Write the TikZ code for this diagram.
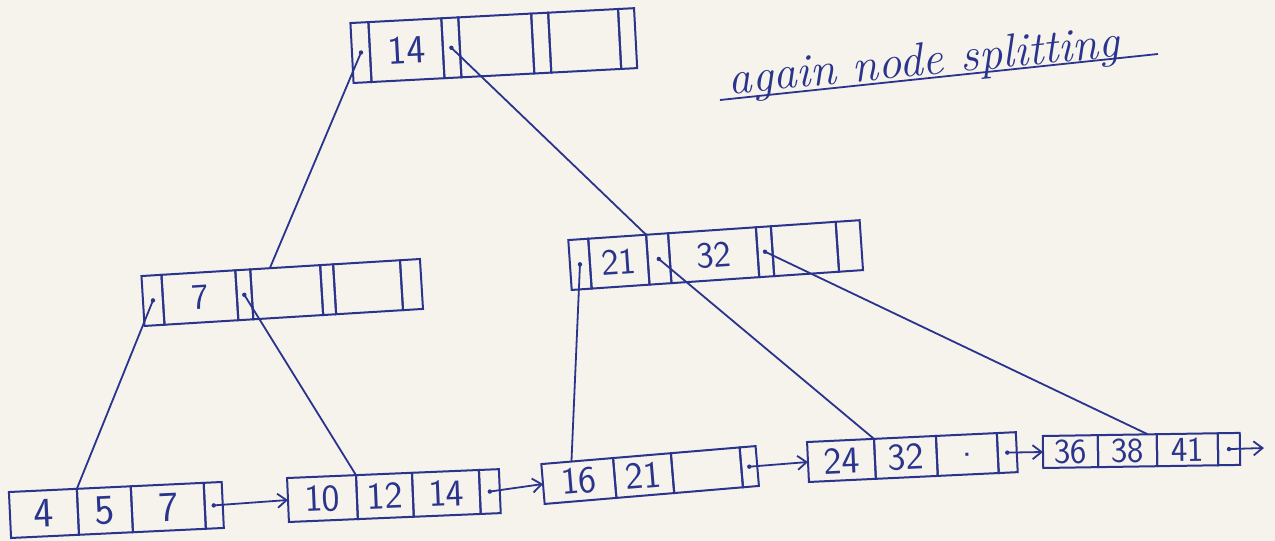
\documentclass[tikz,border=0pt]{standalone}
\usetikzlibrary{arrows.meta,calc}
\definecolor{ink}{RGB}{42,52,140}
\definecolor{paper}{RGB}{245,243,236}
\tikzset{
  cell/.style={draw=ink, line width=2pt, inner sep=0pt, outer sep=0pt, anchor=west, text=ink},
  link/.style={draw=ink, line width=1.8pt},
  nextptr/.style={link, -{Straight Barb[length=9pt,width=14pt,line width=1.8pt]}},
  pdot/.style={fill=ink},
}
\newcommand{\dg}[1]{\sffamily\fontsize{#1}{#1}\selectfont}
\begin{document}
\begin{tikzpicture}[x=1pt,y=-1pt]
\fill[paper] (0,0) rectangle (1275,541);
\useasboundingbox (0,0) rectangle (1275,541);

% ---------- top node ----------
\begin{scope}[every node/.append style={rotate=3, minimum height=60, font=\dg{40}}]
\node[cell, minimum width=18] (T0) at (352,53) {};
\node[cell, minimum width=73] (T1) at (T0.east) {14};
\node[cell, minimum width=17] (T2) at (T1.east) {};
\node[cell, minimum width=73] (T3) at (T2.east) {};
\node[cell, minimum width=17] (T4) at (T3.east) {};
\node[cell, minimum width=70] (T5) at (T4.east) {};
\node[cell, minimum width=16] (T6) at (T5.east) {};
\end{scope}

% ---------- left internal node ----------
\begin{scope}[every node/.append style={rotate=3.5, minimum height=50, font=\dg{36}}]
\node[cell, minimum width=20] (L0) at (143,301) {};
\node[cell, minimum width=74] (L1) at (L0.east) {7};
\node[cell, minimum width=15] (L2) at (L1.east) {};
\node[cell, minimum width=70] (L3) at (L2.east) {};
\node[cell, minimum width=13] (L4) at (L3.east) {};
\node[cell, minimum width=67] (L5) at (L4.east) {};
\node[cell, minimum width=20] (L6) at (L5.east) {};
\end{scope}

% ---------- right internal node ----------
\begin{scope}[every node/.append style={rotate=3.9, minimum height=50, font=\dg{37}}]
\node[cell, minimum width=20] (R0) at (570,265) {};
\node[cell, minimum width=58] (R1) at (R0.east) {21};
\node[cell, minimum width=22] (R2) at (R1.east) {};
\node[cell, minimum width=88] (R3) at (R2.east) {32};
\node[cell, minimum width=15] (R4) at (R3.east) {};
\node[cell, minimum width=65] (R5) at (R4.east) {};
\node[cell, minimum width=24] (R6) at (R5.east) {};
\end{scope}

% ---------- leaves ----------
\begin{scope}[every node/.append style={rotate=2.7, minimum height=46, font=\dg{42}}]
\node[cell, minimum width=68] (A0) at (10,515) {4};
\node[cell, minimum width=54] (A1) at (A0.east) {5};
\node[cell, minimum width=73] (A2) at (A1.east) {7};
\node[cell, minimum width=18] (A3) at (A2.east) {};
\end{scope}
\begin{scope}[every node/.append style={rotate=2.4, minimum height=44, font=\dg{38}}]
\node[cell, minimum width=69] (B0) at (288,500) {10};
\node[cell, minimum width=56] (B1) at (B0.east) {12};
\node[cell, minimum width=67] (B2) at (B1.east) {14};
\node[cell, minimum width=20] (B3) at (B2.east) {};
\end{scope}
\begin{scope}[every node/.append style={rotate=4.8, minimum height=40, font=\dg{38}}]
\node[cell, minimum width=72] (C0) at (543,484) {16};
\node[cell, minimum width=58] (C1) at (C0.east) {21};
\node[cell, minimum width=69] (C2) at (C1.east) {};
\node[cell, minimum width=16] (C3) at (C2.east) {};
\end{scope}
\begin{scope}[every node/.append style={rotate=2.7, minimum height=40, font=\dg{38}}]
\node[cell, minimum width=67] (D0) at (808,462) {24};
\node[cell, minimum width=62] (D1) at (D0.east) {32};
\node[cell, minimum width=61] (D2) at (D1.east) {.};
\node[cell, minimum width=19] (D3) at (D2.east) {};
\end{scope}
\begin{scope}[every node/.append style={rotate=0.9, minimum height=32, font=\dg{35}}]
\node[cell, minimum width=55] (E0) at (1043,452) {36};
\node[cell, minimum width=59] (E1) at (E0.east) {38};
\node[cell, minimum width=61] (E2) at (E1.east) {41};
\node[cell, minimum width=22] (E3) at (E2.east) {};
\end{scope}
\coordinate (Eend) at (1264,448);

% ---------- tree pointers ----------
\draw[link] (T0.center) -- ($(L3.north west)!0.28!(L3.north east)$);
\draw[link] (T2.center) -- (R1.north east);
\draw[link] (L0.center) -- (A0.north east);
\draw[link] (L2.center) -- (B0.north east);
\draw[link] (R0.center) -- ($(C0.north west)!0.42!(C0.north east)$);
\draw[link] (R2.center) -- (D0.north east);
\draw[link] (R4.center) -- ($(E1.north west)!0.85!(E1.north east)$);
\foreach \p in {T0,T2,L0,L2,R0,R2,R4,A3,B3,C3,D3,E3} \fill[pdot] (\p.center) circle (2.2);

% ---------- leaf chain ----------
\draw[nextptr] (A3.center) -- (B0.west);
\draw[nextptr] (B3.center) -- (C0.west);
\draw[nextptr] (C3.center) -- (D0.west);
\draw[nextptr] (D3.center) -- (E0.west);
\draw[nextptr] (E3.center) -- (Eend);

% ---------- caption ----------
\node[text=ink, font=\itshape\fontsize{47}{47}\selectfont, rotate=5.5] (cap) at (924,64) {again node splitting};
\coordinate (u1) at (720,100);
\coordinate (u2) at (1158,54);
\draw[link] (u1) -- (u2);
\end{tikzpicture}
\end{document}
